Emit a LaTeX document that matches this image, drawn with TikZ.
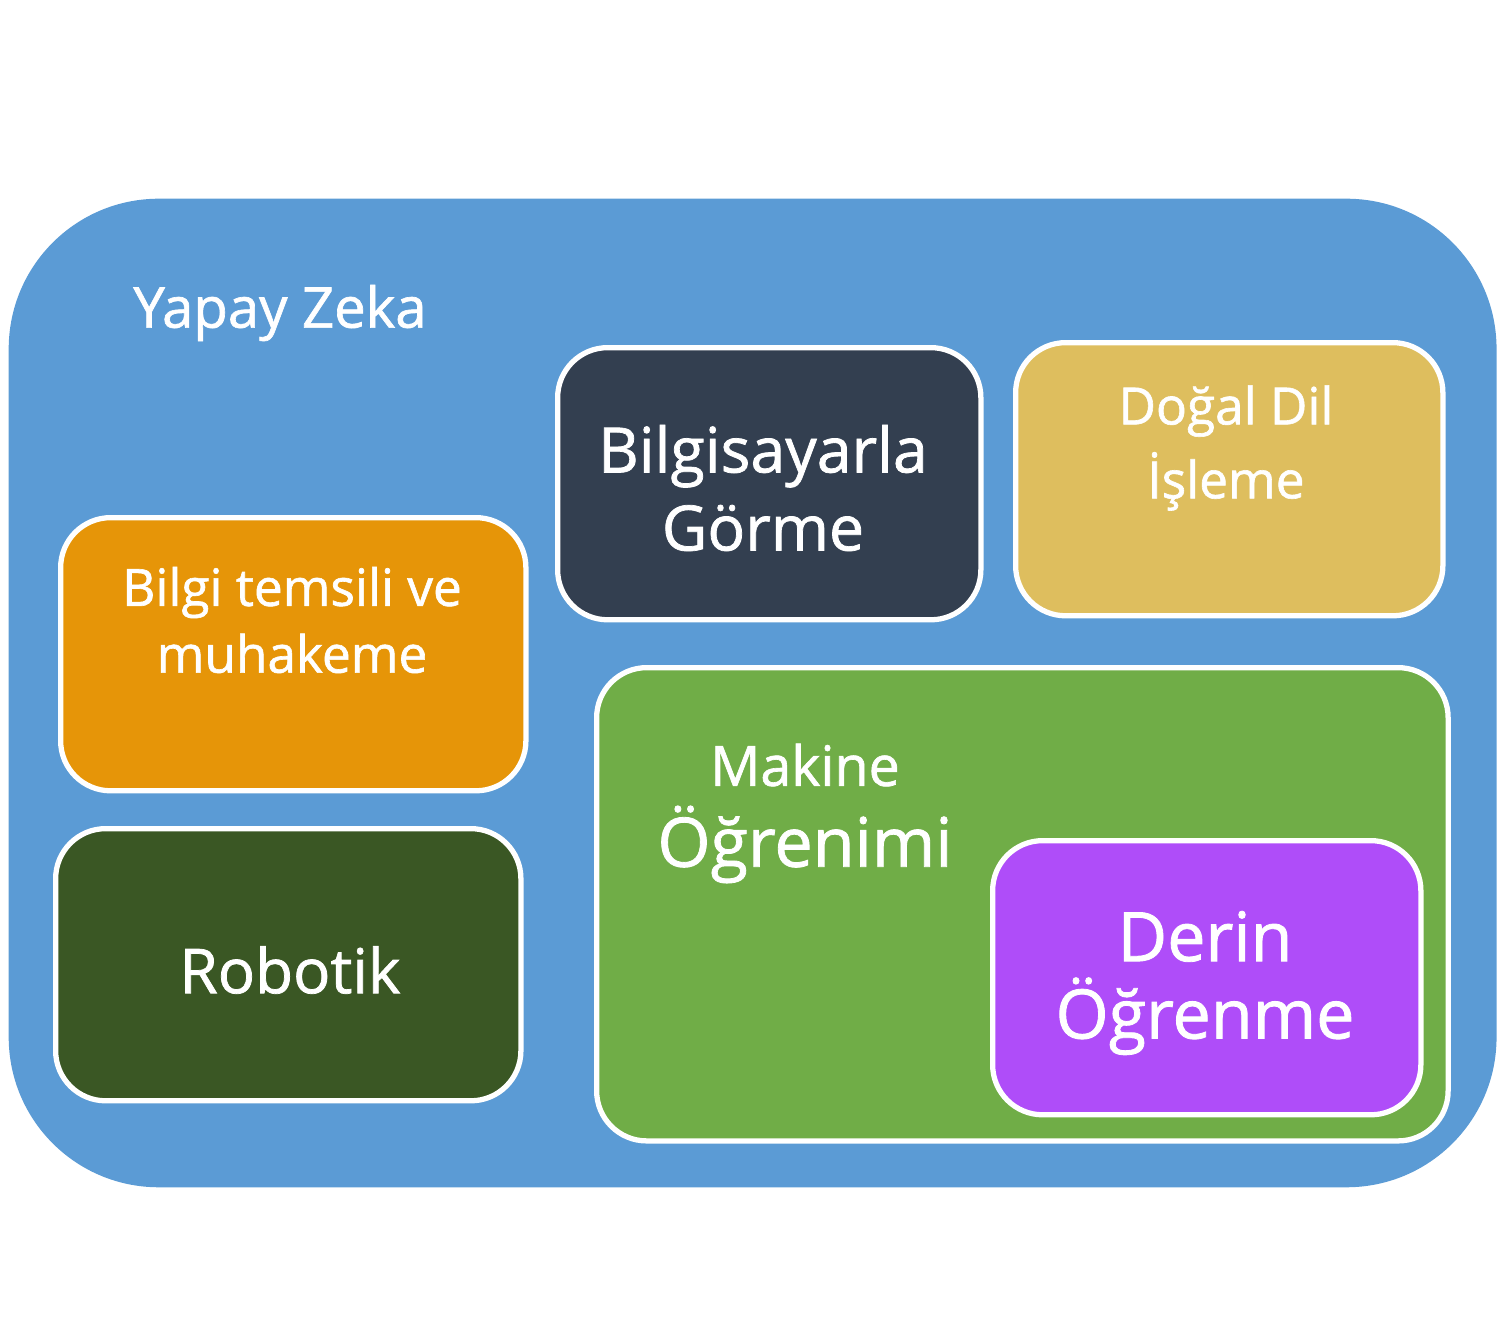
\documentclass[tikz,border=0pt]{standalone}
\usepackage{fontspec}
\setmainfont{Open Sans}[FakeBold=1.2]
\usetikzlibrary{positioning}
\definecolor{aiblue}{HTML}{5B9BD5}
\definecolor{cvslate}{HTML}{333F50}
\definecolor{nlpgold}{HTML}{DEBE5E}
\definecolor{kramber}{HTML}{E69508}
\definecolor{robforest}{HTML}{3A5724}
\definecolor{mlgreen}{HTML}{70AD47}
\definecolor{dlviolet}{HTML}{AF4DF9}

\begin{document}
\begin{tikzpicture}[x=0.01cm,y=-0.01cm,
  area/.style={draw=white,line width=1.5pt,rounded corners=0.5cm,anchor=north west,inner sep=0pt},
  lbl/.style={text=white,align=center,inner sep=0pt}]
\useasboundingbox (0,0) rectangle (1505,1327);
% outer field
\node[fill=aiblue,rounded corners=1.5cm,anchor=north west,inner sep=0pt,
  minimum width=14.87cm,minimum height=9.88cm] (ai) at (8,198) {};
\node[lbl,font=\fontsize{16}{20}\selectfont] (aitext) at (280,313) {Yapay Zeka};

% sub fields
\node[area,fill=cvslate,minimum width=4.23cm,minimum height=2.72cm] (cv) at (555,345) {};
\node[area,fill=nlpgold,minimum width=4.27cm,minimum height=2.73cm] (nlp) at (1013,340) {};
\node[area,fill=kramber,minimum width=4.65cm,minimum height=2.73cm] (kr) at (58,515) {};
\node[area,fill=robforest,minimum width=4.65cm,minimum height=2.72cm] (rob) at (53,826) {};
\node[area,fill=mlgreen,minimum width=8.51cm,minimum height=4.73cm] (ml) at (594,665) {};
\node[area,fill=dlviolet,minimum width=4.28cm,minimum height=2.74cm] (dl) at (990,838) {};

% labels
\node[lbl,font=\fontsize{17.8}{22.2}\selectfont] (cvtext) at (763,488) {Bilgisayarla\\Görme};
\node[lbl,font=\fontsize{14.6}{21}\selectfont] (nlptext) at (1226,448) {Doğal Dil\\İşleme};
\node[lbl,font=\fontsize{14.6}{19}\selectfont] (krtext) at (292,620) {Bilgi temsili ve\\muhakeme};
\node[lbl,font=\fontsize{17.6}{22}\selectfont] (robtext) at (290,970) {Robotik};
\node[lbl,font=\fontsize{15.8}{20}\selectfont] (mltop) at (805,765) {Makine};
\node[lbl,font=\fontsize{19.4}{24}\selectfont,below=0.18cm of mltop] (mlbot) {Öğrenimi};
\node[lbl,font=\fontsize{19.4}{22}\selectfont] (dltext) at (1205,983) {Derin\\Öğrenme};
\end{tikzpicture}
\end{document}
